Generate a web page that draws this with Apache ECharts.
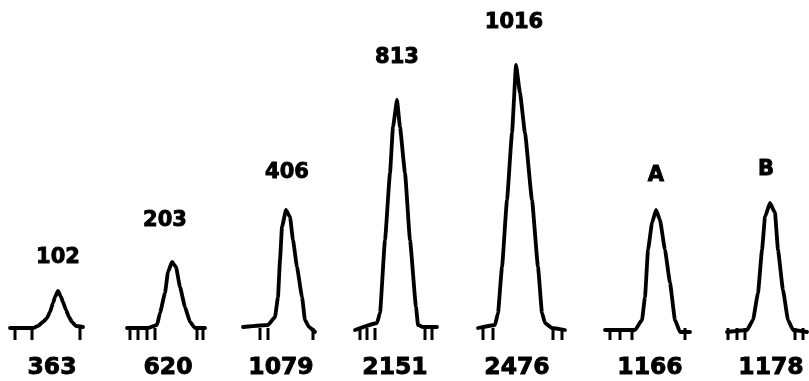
<!DOCTYPE html>
<html>
<head>
<meta charset="utf-8">
<script src="https://cdn.jsdelivr.net/npm/echarts@6/dist/echarts.min.js"></script>
<style>
html,body{margin:0;padding:0;background:#fff;}
#chart{width:809px;height:381px;}
</style>
</head>
<body>
<div id="chart"></div>
<script>
// Peak traces: [position, signal height above baseline]
var peak102 = [[10,2],[33,2],[38,4],[43,8],[47,12],[50,18],[53,27],[55,33],[58,39],[61,33],[63,28],[66,20],[69,13],[72,8],[76,4],[83,3]];
var peak203 = [[127,2],[148,2],[157,5],[160,17],[165,37],[168,58],[172,68],[176,63],[180,43],[185,23],[190,8],[195,2],[205,2]];
var peak406 = [[243,3],[268,5],[275,13],[278,33],[280,70],[282,103],[286,120],[290,113],[293,90],[297,63],[302,33],[305,10],[309,3],[315,-2]];
var peak813 = [[355,0],[377,7],[380,17],[385,90],[390,157],[393,203],[397,230],[400,203],[405,157],[410,90],[416,23],[418,5],[423,3],[437,3]];
var peak1016 = [[478,2],[495,5],[498,17],[502,63],[507,130],[512,197],[516,265],[520,237],[525,197],[532,130],[538,63],[542,17],[545,7],[552,2],[565,0]];
var peakA = [[605,0],[635,0],[642,10],[645,33],[648,80],[652,107],[656,120],[660,110],[665,80],[670,47],[675,10],[680,-2],[690,-2]];
var peakB = [[727,-2],[747,0],[753,10],[758,37],[762,80],[765,113],[770,127],[775,117],[778,80],[783,40],[788,10],[793,0],[807,-2]];

// Labels above peaks and below
var topLabels = ['102','203','406','813','1016','A','B'];
var topLabelPos = [[58,72],[165,109],[287,157],[397,272],[514,307],[656,154],[766,160]];
var bottomLabels = ['363','620','1079','2151','2476','1166','1178'];
var bottomLabelX = [52,168,281,395,517,650,771];

// Time-mark ticks below the baseline
var tickX = [15,32,80, 130,138,147,155,197,203, 260,268,313, 360,367,375,425,432, 483,493,553,562, 610,620,632,685, 728,737,745,795,803];

var chart = echarts.init(document.getElementById('chart'));
var peaks = [peak102, peak203, peak406, peak813, peak1016, peakA, peakB];

var series = peaks.map(function (p) {
  return {
    type: 'line', data: p, smooth: 0.12, smoothMonotone: 'x', symbol: 'none',
    lineStyle: {color: '#000', width: 3.8, cap: 'round', join: 'round'},
    silent: true, animation: false
  };
});

series.push({
  type: 'custom', animation: false, silent: true,
  data: tickX.map(function (x) { return [x]; }),
  renderItem: function (params, api) {
    var x = api.value(0);
    var p1 = api.coord([x, 2]);
    var p2 = api.coord([x, -10]);
    return {type: 'line', shape: {x1: p1[0], y1: p1[1], x2: p2[0], y2: p2[1]},
      style: {stroke: '#000', lineWidth: 3}};
  }
});

function labelStyle(size) {
  return {show: true, position: 'inside', formatter: '{b}', fontSize: size,
    fontFamily: 'DejaVu Sans', fontWeight: 'bold', color: '#000',
    textBorderColor: '#000', textBorderWidth: 0.9, opacity: 1};
}

series.push({
  type: 'scatter', symbolSize: 1, itemStyle: {color: '#fff', opacity: 1}, animation: false, silent: true,
  data: topLabels.map(function (t, i) { return {name: t, value: topLabelPos[i]}; }),
  label: labelStyle(21)
});

series.push({
  type: 'scatter', symbolSize: 1, itemStyle: {color: '#fff', opacity: 1}, animation: false, silent: true,
  data: bottomLabels.map(function (t, i) { return {name: t, value: [bottomLabelX[i], -38]}; }),
  label: labelStyle(23.5)
});

chart.setOption({
  backgroundColor: '#fff',
  animation: false,
  grid: {left: 0, right: 0, top: 0, bottom: 0},
  xAxis: {type: 'value', min: 0, max: 809, show: false},
  yAxis: {type: 'value', min: -51, max: 330, show: false},
  series: series
});
</script>
</body>
</html>
